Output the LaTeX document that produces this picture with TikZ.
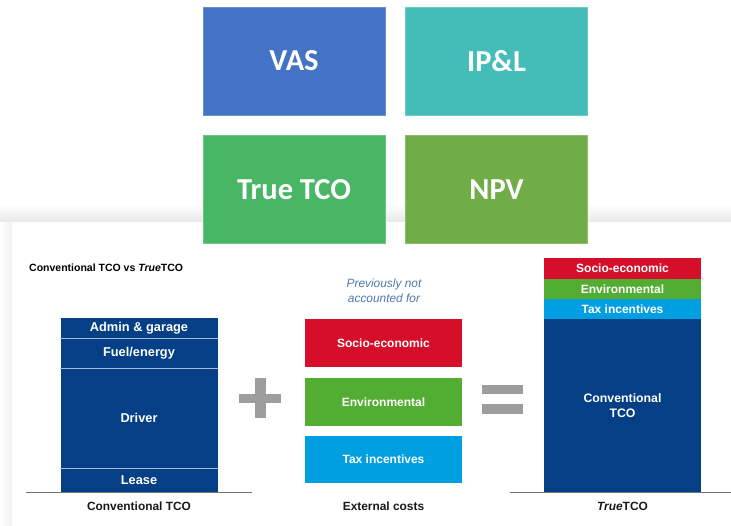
\documentclass[tikz,border=0pt]{standalone}
\usepackage{fontspec}
\setmainfont{Liberation Sans}
\newfontfamily\carlito{Carlito}
\definecolor{vasblue}{HTML}{4472C4}
\definecolor{iplteal}{HTML}{44BDB8}
\definecolor{tcogreen}{HTML}{48B664}
\definecolor{npvgreen}{HTML}{70AD47}
\definecolor{tcoblue}{HTML}{053F86}
\definecolor{socred}{HTML}{D50F2A}
\definecolor{envgreen}{HTML}{52AE32}
\definecolor{taxcyan}{HTML}{009FE2}
\definecolor{signgray}{HTML}{9D9D9D}
\definecolor{notecol}{HTML}{4F79AC}
\begin{document}
\begin{tikzpicture}[x=1pt,y=-1pt,
  topbox/.style={fill=#1, draw=#1!80!white, line width=0.6pt, text=white, minimum width=182pt, minimum height=108pt, inner sep=0pt, font=\carlito\bfseries\fontsize{30.5}{34}\selectfont},
  tile/.style={fill=#1, text=white, minimum width=157pt, inner sep=0pt, font=\bfseries\fontsize{12}{14}\selectfont},
  ltile/.style={tile=tcoblue, font=\bfseries\fontsize{12.8}{14}\selectfont},
  sepline/.style={draw=white!65!tcoblue, line width=0.7pt},
  baseline/.style={draw=black!55, line width=0.9pt},
  caption/.style={font=\bfseries\fontsize{11.9}{14}\selectfont, text=black!90},
  signbar/.style={fill=signgray}
]
\useasboundingbox (0,0) rectangle (731,525);
% card shadow and card
\shade[top color=white, bottom color=black!9] (0,204) rectangle (731,222);
\shade[left color=white, right color=black!6] (0,222) rectangle (12,525);
\fill[white] (12,222) rectangle (731,525);

% top boxes
\node[topbox=vasblue] (vas) at (294,61) {VAS};
\node[topbox=iplteal] (ipl) at (496.5,61) {IP\&L};
\node[topbox=tcogreen] (truetco) at (294,189.5) {True TCO};
\node[topbox=npvgreen] (npv) at (496.5,189.5) {NPV};

% title
\node[anchor=west, font=\bfseries\fontsize{10.5}{12}\selectfont, inner sep=0pt] (title) at (29,268) {Conventional TCO vs \textit{True}TCO};

% left stack
\node[ltile, minimum height=20pt] (admin) at (139,328) {Admin \& garage};
\node[ltile, minimum height=30pt] (fuel) at (139,353) {Fuel/energy};
\node[ltile, minimum height=100pt] (driver) at (139,418) {Driver};
\node[ltile, minimum height=24pt] (lease) at (139,480) {Lease};
\draw[sepline] (admin.south west) -- (admin.south east);
\draw[sepline] (fuel.south west) -- (fuel.south east);
\draw[sepline] (driver.south west) -- (driver.south east);
\coordinate (lb1) at (26,492);
\coordinate (lb2) at (252,492);
\draw[baseline] (lb1) -- (lb2);
\node[caption] (capl) at (139,506) {Conventional TCO};

% plus sign
\fill[signbar] (239,394) rectangle (281,403);
\fill[signbar] (255,378) rectangle (266,418);

% middle
\node[font=\itshape\fontsize{11.9}{15}\selectfont, text=notecol, align=center] (note) at (384,291) {Previously not\\accounted for};
\node[tile=socred, minimum height=48pt] (socio) at (383.5,343) {Socio-economic};
\node[tile=envgreen, minimum height=48pt] (env) at (383.5,402) {Environmental};
\node[tile=taxcyan, minimum height=47pt] (tax) at (383.5,459.5) {Tax incentives};
\node[caption] (capm) at (383.5,506) {External costs};

% equals sign
\fill[signbar] (482,385) rectangle (523,394);
\fill[signbar] (482,404) rectangle (523,414);

% right stack
\node[tile=socred, minimum height=21pt] (rsocio) at (622.5,268.5) {Socio-economic};
\node[tile=envgreen, minimum height=20pt] (renv) at (622.5,289) {Environmental};
\node[tile=taxcyan, minimum height=20pt] (rtax) at (622.5,309) {Tax incentives};
\node[tile=tcoblue, minimum height=173pt, align=center, font=\bfseries\fontsize{12.3}{15}\selectfont] (rconv) at (622.5,405.5) {Conventional\\TCO};
\coordinate (rb1) at (510,492);
\coordinate (rb2) at (731,492);
\draw[baseline] (rb1) -- (rb2);
\node[caption] (capr) at (622.5,506) {\textit{True}TCO};
\end{tikzpicture}
\end{document}
